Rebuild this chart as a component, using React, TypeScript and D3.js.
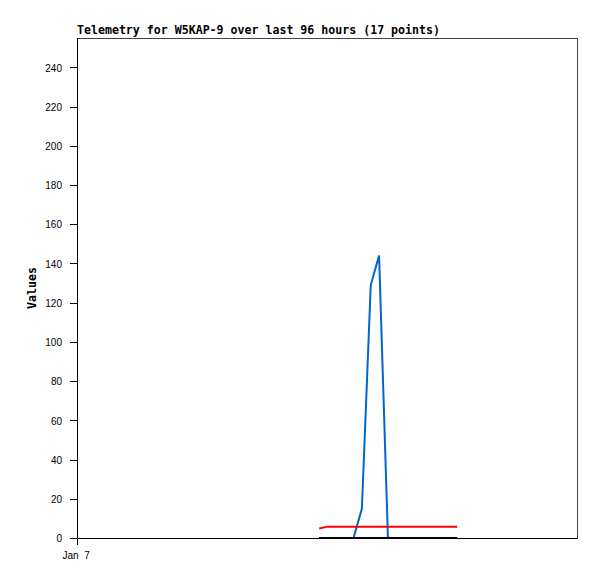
import React from "react";
import * as d3 from "d3";

const TITLE = "Telemetry for W5KAP-9 over last 96 hours (17 points)";
const Y_LABEL = "Values";
const TIMES = [
  "2024-01-08T22:30", "2024-01-09T00:06", "2024-01-09T01:48", "2024-01-09T03:24",
  "2024-01-09T05:06", "2024-01-09T06:42", "2024-01-09T08:24", "2024-01-09T10:00",
  "2024-01-09T11:42", "2024-01-09T13:24", "2024-01-09T15:00", "2024-01-09T16:42",
  "2024-01-09T18:18", "2024-01-09T20:00", "2024-01-09T21:36", "2024-01-09T23:18",
  "2024-01-10T01:00",
];
const BLUE = [0, 0, 0, 0, 0, 15, 129, 144, 0, 0, 0, 0, 0, 0, 0, 0, 0];
const RED = [4.8, 5.8, 5.8, 5.8, 5.8, 5.8, 5.8, 5.8, 5.8, 5.8, 5.8, 5.8, 5.8, 5.8, 5.8, 5.8, 5.8];
const BLACK = [0, 0, 0, 0, 0, 0, 0, 0, 0, 0, 0, 0, 0, 0, 0, 0, 0];
const Y_TICKS = [0, 20, 40, 60, 80, 100, 120, 140, 160, 180, 200, 220, 240];
const X_START = "2024-01-07T00:00";
const X_HOURS = 96;
const X_TICK_LABEL = "Jan  7";

const W = 597, H = 579;
const L = 77, R = 577, T = 38, B = 538;

export default function App() {
  const parse = (s: string) => new Date(s);
  const start = parse(X_START);
  const end = new Date(start.getTime() + X_HOURS * 3600 * 1000);
  const x = d3.scaleTime().domain([start, end]).range([L, R]);
  const y = d3.scaleLinear().domain([0, 255]).range([B, T]);
  const dates = TIMES.map(parse);
  const line = d3.line<number>().x((_, i) => x(dates[i])).y((v) => y(v));
  const series = [
    { vals: BLUE, color: "#0066cc" },
    { vals: RED, color: "#ff0000" },
    { vals: BLACK, color: "#000000" },
  ];
  const mono = "'DejaVu Sans Mono', 'Liberation Mono', monospace";
  const sans = "'Liberation Sans', Arial, sans-serif";
  return (
    <svg width={W} height={H} style={{ position: "absolute", left: 0, top: 0, background: "#fff" }}>
      <rect x={0} y={0} width={W} height={H} fill="#fff" />
      <rect x={L + 0.5} y={T + 0.5} width={R - L} height={B - T} fill="none" stroke="#444" strokeWidth={1} />
      <text x={L} y={34} fontFamily={mono} fontWeight="bold" fontSize={11.6} fill="#000">{TITLE}</text>
      <text transform={`translate(36,${(T + B) / 2}) rotate(-90)`} textAnchor="middle" fontFamily={mono} fontWeight="bold" fontSize={11.6} fill="#000">{Y_LABEL}</text>
      {Y_TICKS.map((t) => (
        <g key={t}>
          <line x1={L - 7} x2={L} y1={Math.round(y(t)) + 0.5} y2={Math.round(y(t)) + 0.5} stroke="#000" />
          <text x={62} y={y(t) + 4.2} textAnchor="end" fontFamily={sans} fontSize={10} fill="#000">{t}</text>
        </g>
      ))}
      <line x1={L + 0.5} x2={L + 0.5} y1={T} y2={B + 7} stroke="#000" />
      <line x1={L - 7} x2={R} y1={B + 0.5} y2={B + 0.5} stroke="#000" />
      <text x={x(start) - 14.5} y={559} fontFamily={sans} fontSize={10} fill="#000" style={{ whiteSpace: "pre" }}>{X_TICK_LABEL}</text>
      {series.map((s, i) => (
        <path key={i} d={line(s.vals) || ""} fill="none" stroke={s.color} strokeWidth={2} />
      ))}
    </svg>
  );
}
